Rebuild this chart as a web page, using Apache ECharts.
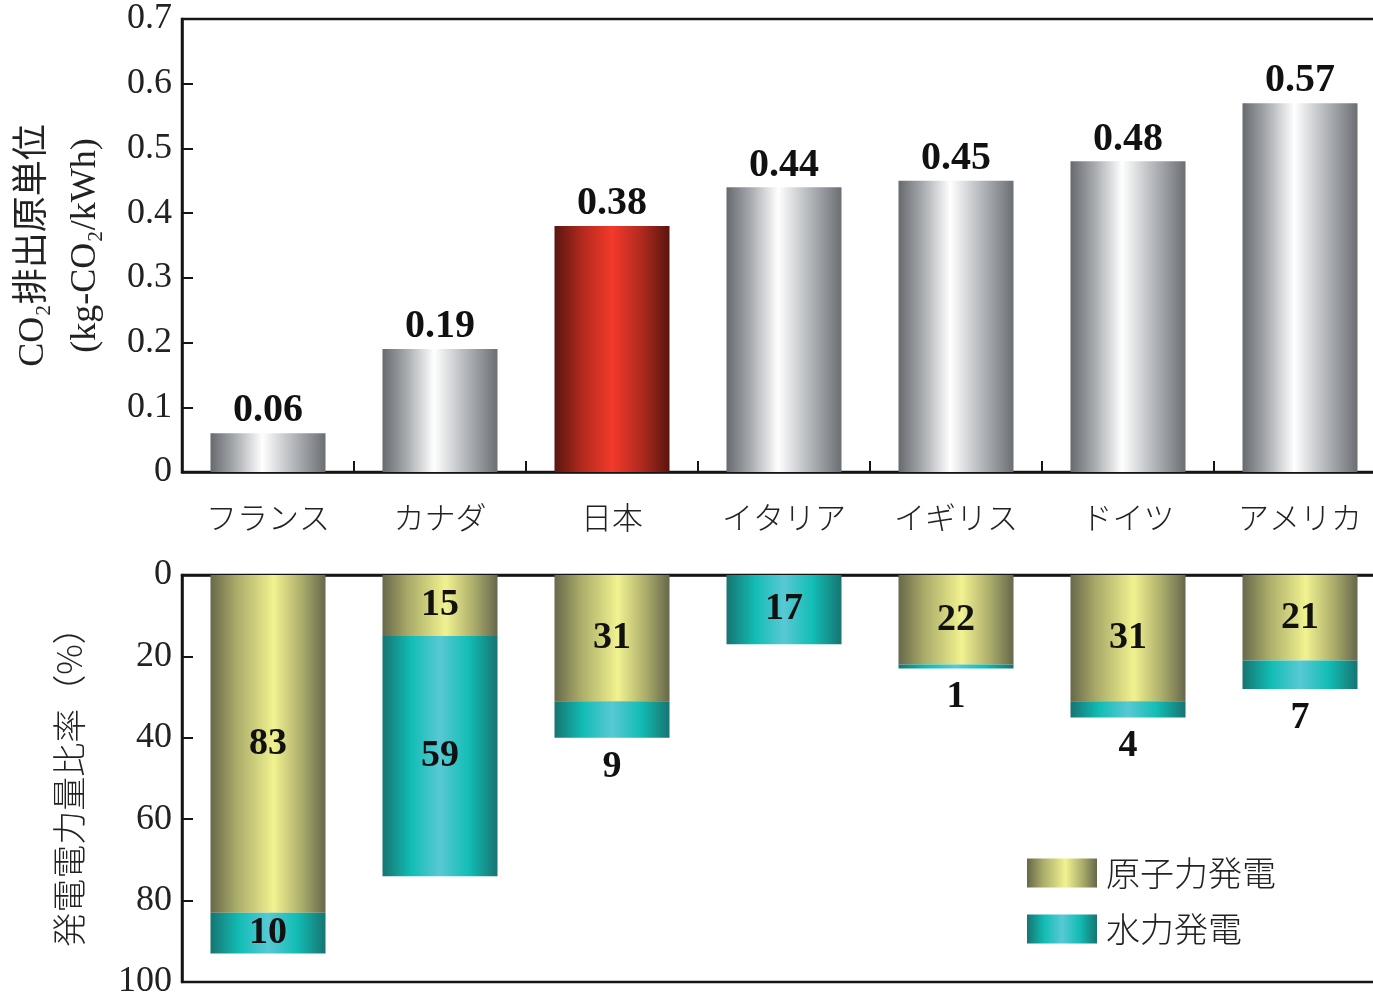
<!DOCTYPE html>
<html>
<head>
<meta charset="utf-8">
<script src="https://cdn.jsdelivr.net/npm/echarts@6/dist/echarts.min.js"></script>
<style>html,body{margin:0;padding:0;background:#fff}#c{width:1373px;height:998px}</style>
</head>
<body>
<div id="c"></div>
<script>
const categories = ['フランス', 'カナダ', '日本', 'イタリア', 'イギリス', 'ドイツ', 'アメリカ'];
const co2Intensity = [0.06, 0.19, 0.38, 0.44, 0.45, 0.48, 0.57];
const nuclearShare = [83, 15, 31, 0, 22, 31, 21];
const hydroShare = [10, 59, 9, 17, 1, 4, 7];
const topTicks = ['0', '0.1', '0.2', '0.3', '0.4', '0.5', '0.6', '0.7'];
const bottomTicks = ['0', '20', '40', '60', '80', '100'];
const highlightCategory = '日本';
const seriesNames = ['原子力発電', '水力発電'];

const SERIF = "'Liberation Serif', 'Noto Sans CJK JP', serif";
const CJK = "'Noto Sans CJK JP', 'Liberation Serif', sans-serif";
const AX = '#151515';

function grad(stops) {
  return { type: 'linear', x: 0, y: 0, x2: 1, y2: 0,
    colorStops: stops.map(s => ({ offset: s[0], color: s[1] })) };
}
const greyGrad = grad([[0, '#66696d'], [0.2, '#a4a7ab'], [0.45, '#ffffff'], [0.7, '#b9bcc0'], [1, '#6b6e72']]);
const redGrad = grad([[0, '#5a1610'], [0.25, '#b52a1e'], [0.5, '#f23a2b'], [0.75, '#b32a1f'], [1, '#58150f']]);
const yellowGrad = grad([[0, '#67684a'], [0.22, '#a8aa68'], [0.55, '#f1f290'], [0.8, '#a9ab6a'], [1, '#66674a']]);
const tealGrad = grad([[0, '#167472'], [0.25, '#12bdb5'], [0.5, '#58c9d4'], [0.75, '#12bdb5'], [1, '#167472']]);

const chart = echarts.init(document.getElementById('c'), null, { renderer: 'canvas' });

const option = {
  animation: false,
  backgroundColor: '#fff',
  grid: [
    { left: 182, right: -13, top: 19, height: 453, outerBoundsMode: 'none', containLabel: false,
      show: true, borderColor: AX, borderWidth: 2.5, backgroundColor: 'transparent' },
    { left: 182, right: -13, top: 575, height: 407, outerBoundsMode: 'none', containLabel: false,
      show: true, borderColor: AX, borderWidth: 2.5, backgroundColor: 'transparent' }
  ],
  legend: {
    orient: 'vertical', left: 1022, top: 851,
    itemWidth: 70, itemHeight: 29, itemGap: 22,
    icon: 'rect',
    data: seriesNames,
    textStyle: { fontFamily: CJK, fontSize: 34, fontWeight: 300, color: '#222', padding: [0, 0, 0, 4] }
  },
  xAxis: [
    { type: 'category', gridIndex: 0, data: categories, position: 'bottom',
      axisLine: { show: true, lineStyle: { color: AX, width: 2.5 } },
      axisTick: { show: true, inside: true, length: 11, alignWithLabel: false, lineStyle: { color: AX, width: 2 } },
      axisLabel: { margin: 30, fontFamily: CJK, fontSize: 31, fontWeight: 300, color: '#222' } },
    { type: 'category', gridIndex: 1, data: categories, position: 'top',
      axisLine: { show: true, lineStyle: { color: AX, width: 2.5 } },
      axisTick: { show: false }, axisLabel: { show: false } }
  ],
  yAxis: [
    { type: 'value', gridIndex: 0, min: 0, max: 0.7, interval: 0.1,
      name: 'CO₂排出原単位\n(kg-CO₂/kWh)', nameLocation: 'middle', nameRotate: 90, nameGap: 70,
      nameTextStyle: { fontFamily: SERIF, fontSize: 36, color: '#222', lineHeight: 52 },
      axisLine: { show: true, lineStyle: { color: AX, width: 2.5 } },
      axisTick: { show: true, inside: true, length: 11, lineStyle: { color: AX, width: 2 } },
      splitLine: { show: false },
      axisLabel: { margin: 10, fontFamily: SERIF, fontSize: 36, color: '#222',
        formatter: (v) => { const i = Math.round(v * 10); return topTicks[i] !== undefined ? topTicks[i] : ''; } } },
    { type: 'value', gridIndex: 1, min: 0, max: 100, interval: 20, inverse: true,
      name: '発電電力量比率（%）', nameLocation: 'middle', nameRotate: 90, nameGap: 96,
      nameTextStyle: { fontFamily: CJK, fontSize: 34, fontWeight: 300, color: '#222' },
      axisLine: { show: true, lineStyle: { color: AX, width: 2.5 } },
      axisTick: { show: true, inside: true, length: 11, lineStyle: { color: AX, width: 2 } },
      splitLine: { show: false },
      axisLabel: { margin: 10, fontFamily: SERIF, fontSize: 36, color: '#222',
        formatter: (v) => { const i = Math.round(v / 20); return bottomTicks[i] !== undefined ? bottomTicks[i] : ''; } } }
  ],
  series: [
    { type: 'bar', name: 'CO2', xAxisIndex: 0, yAxisIndex: 0, barWidth: 115,
      data: co2Intensity.map((v, i) => ({ value: v,
        itemStyle: { color: categories[i] === highlightCategory ? redGrad : greyGrad } })),
      label: { show: true, position: 'top', distance: 2, fontFamily: SERIF, fontWeight: 'bold', fontSize: 40, color: '#111',
        formatter: (p) => p.value.toFixed(2) } },
    { type: 'bar', name: seriesNames[0], xAxisIndex: 1, yAxisIndex: 1, stack: 'share', barWidth: 115,
      itemStyle: { color: yellowGrad },
      data: nuclearShare,
      label: { show: true, position: 'inside', fontFamily: SERIF, fontWeight: 'bold', fontSize: 38, color: '#111',
        formatter: (p) => p.value > 0 ? String(p.value) : '' } },
    { type: 'bar', name: seriesNames[1], xAxisIndex: 1, yAxisIndex: 1, stack: 'share', barWidth: 115,
      itemStyle: { color: tealGrad },
      data: hydroShare.map(v => ({ value: v,
        label: v < 10 ? { position: 'bottom', distance: 10 } : { position: 'inside' } })),
      label: { show: true, fontFamily: SERIF, fontWeight: 'bold', fontSize: 38, color: '#111' } }
  ]
};
chart.setOption(option);
</script>
</body>
</html>
